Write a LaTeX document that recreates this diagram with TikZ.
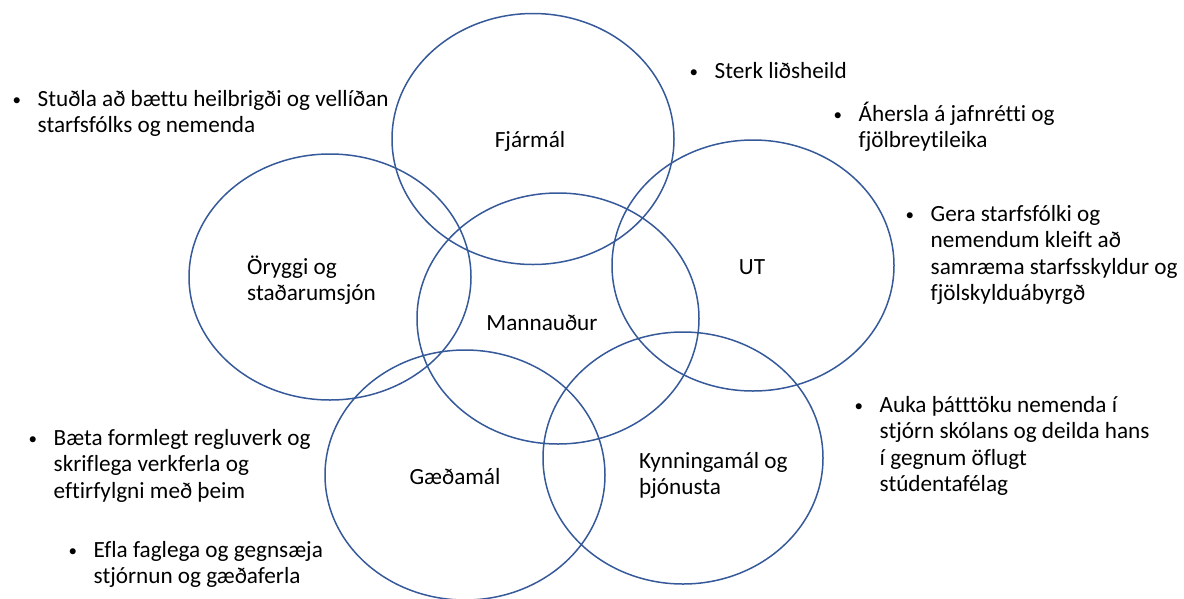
\documentclass[tikz,border=0pt]{standalone}
\usepackage{fontspec}
\setmainfont{Carlito}[Ligatures={NoCommon}]
\usetikzlibrary{shapes.geometric}
\definecolor{ringblue}{HTML}{36599A}
\tikzset{
  ring/.style={ellipse, draw=ringblue, line width=1.5pt, inner sep=0pt, outer sep=0pt, minimum width=282pt, minimum height=251pt},
  lbl/.style={inner sep=0pt, font=\fontsize{23.2pt}{26.5pt}\selectfont},
  item/.style={inner sep=0pt, anchor=base west, font=\fontsize{23.2pt}{26.5pt}\selectfont}
}
\newcommand{\bitem}[1]{\begin{tabular}[t]{@{}l@{}l@{}}\makebox[24.5pt][l]{\hspace{-0.5pt}\raisebox{1pt}{\fontsize{17pt}{17pt}\selectfont\textbullet}} & \begin{tabular}[t]{@{}l@{}}#1\end{tabular}\end{tabular}}
\begin{document}
\begin{tikzpicture}[x=1pt,y=-1pt]
\useasboundingbox (0,0) rectangle (1184,598);
% rings
\node[ring] (fj) at (533,139) {};
\node[ring, minimum height=246pt] (or) at (330,277) {};
\node[ring] (ma) at (558,318.5) {};
\node[ring] (ut) at (753,265.5) {};
\node[ring, minimum width=280pt, minimum height=250pt] (gm) at (465,475) {};
\node[ring, minimum width=280pt, minimum height=252pt] (ky) at (683,458) {};
% ring labels
\node[lbl] (fjl) at (530,141) {Fjármál};
\node[lbl, anchor=base west] (orl) at (247,274) {\begin{tabular}[t]{@{}l@{}}Öryggi og\\ staðarumsjón\end{tabular}};
\node[lbl] (utl) at (752,267) {UT};
\node[lbl] (mal) at (542,323) {Mannauður};
\node[lbl] (gml) at (455,477) {Gæðamál};
\node[lbl, anchor=base west] (kyl) at (639,468) {\begin{tabular}[t]{@{}l@{}}Kynningamál og\\ þjónusta\end{tabular}};
% bullet texts
\node[item] (t1) at (13,106) {\bitem{Stuðla að bættu heilbrigði og vellíðan\\ starfsfólks og nemenda}};
\node[item] (t2) at (690,78) {\bitem{Sterk liðsheild}};
\node[item] (t3) at (834,121) {\bitem{Áhersla á jafnrétti og\\ fjölbreytileika}};
\node[item] (t4) at (906,221) {\bitem{Gera starfsfólki og\\ nemendum kleift að\\ samræma starfsskyldur og\\ fjölskylduábyrgð}};
\node[item] (t5) at (855,412) {\bitem{Auka þátttöku nemenda í\\ stjórn skólans og deilda hans\\ í gegnum öflugt\\ stúdentafélag}};
\node[item] (t6) at (29,445) {\bitem{Bæta formlegt regluverk og\\ skriflega verkferla og\\ eftirfylgni með þeim}};
\node[item] (t7) at (69,557) {\bitem{Efla faglega og gegnsæja\\ stjórnun og gæðaferla}};
\end{tikzpicture}
\end{document}
